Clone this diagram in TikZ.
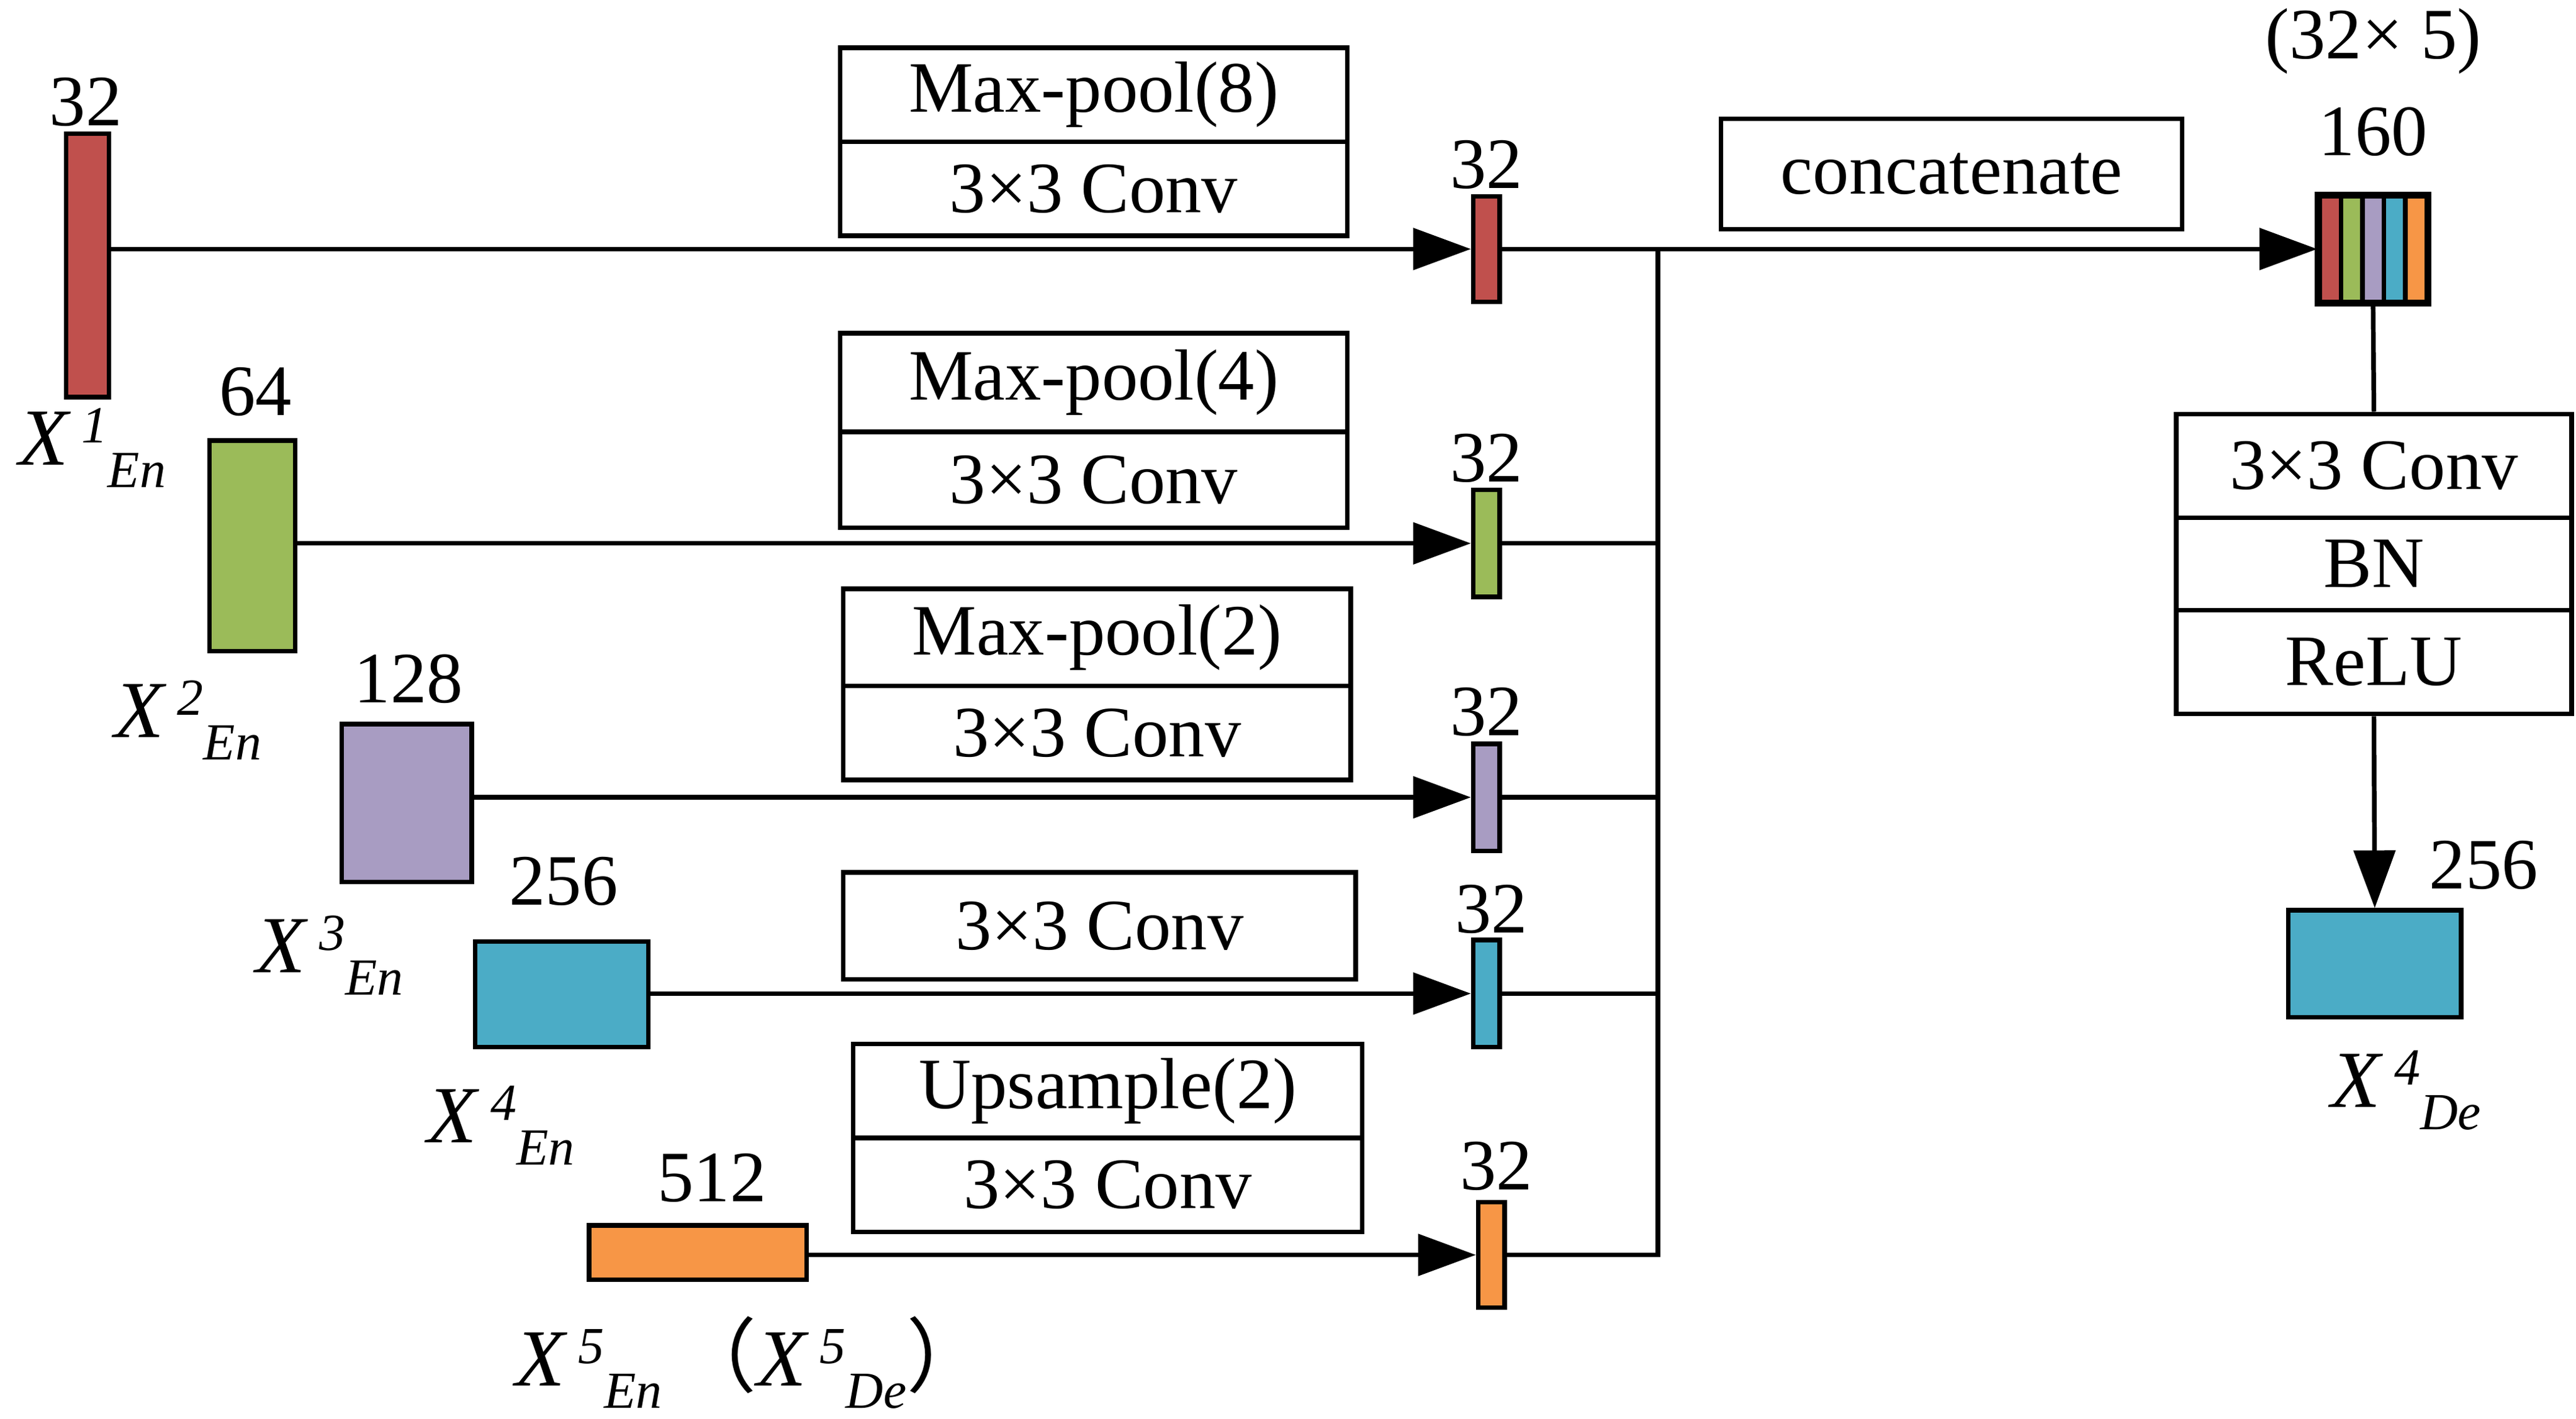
\documentclass[tikz,border=0pt]{standalone}
\usepackage{fontspec}
\setmainfont{Liberation Serif}
\newfontfamily\cjk{Noto Sans CJK SC}
\usetikzlibrary{arrows.meta}
\definecolor{cred}{HTML}{C0504D}
\definecolor{cgreen}{HTML}{9BBB59}
\definecolor{cpurple}{HTML}{A89CC2}
\definecolor{cteal}{HTML}{4BACC6}
\definecolor{corange}{HTML}{F79646}
\newcommand{\xlab}[2]{\textit{X\,\raisebox{0.6ex}{\small #1}\raisebox{-0.6ex}{\small #2}}}
\tikzset{
  fm/.style={draw=black,line width=0.8pt,inner sep=0pt,fill=#1},
  op/.style={draw=black,line width=0.8pt,inner sep=0pt,font=\fontsize{12.5}{12.5}\selectfont},
  num/.style={inner sep=0pt,font=\fontsize{12.5}{12.5}\selectfont},
  xl/.style={inner sep=0pt,font=\fontsize{14}{14}\selectfont},
  ln/.style={line width=0.8pt},
  ar/.style={line width=0.8pt,-{Triangle[length=0.35cm,width=0.25cm]}}
}
% box from pixel corners (x1,y1) (x2,y2), 1px = 0.01cm, y downward
\newcommand{\pbox}[6]{\node[#2,minimum width={(#5-#3)*0.01cm},minimum height={(#6-#4)*0.01cm}] (#1) at ({(#3+#5)*0.005},{-(#4+#6)*0.005}) {};}
\newcommand{\tbox}[7]{\node[#2,minimum width={(#5-#3)*0.01cm},minimum height={(#6-#4)*0.01cm}] (#1) at ({(#3+#5)*0.005},{-(#4+#6)*0.005}) {#7};}
\begin{document}
\begin{tikzpicture}
\useasboundingbox (0,0) rectangle (15.63,-8.613);
% encoder feature maps
\pbox{x1}{fm=cred}{40}{81}{66}{241}
\pbox{x2}{fm=cgreen}{127}{267}{179}{395}
\pbox{x3}{fm=cpurple}{207}{439}{286}{535}
\pbox{x4}{fm=cteal}{288}{571}{393}{635}
\pbox{x5}{fm=corange}{357}{743}{489}{776}
\node[num] (n1) at (0.52,-0.62) {32};
\node[num] (n2) at (1.55,-2.38) {64};
\node[num] (n3) at (2.48,-4.12) {128};
\node[num] (n4) at (3.42,-5.35) {256};
\node[num] (n5) at (4.32,-7.15) {512};
\node[xl] (l1) at (0.56,-2.72) {\xlab{1}{En}};
\node[xl] (l2) at (1.14,-4.37) {\xlab{2}{En}};
\node[xl] (l3) at (2.00,-5.80) {\xlab{3}{En}};
\node[xl] (l4) at (3.04,-6.83) {\xlab{4}{En}};
\node[xl] (l5) at (4.56,-8.27) {\xlab{5}{En}\,{\cjk（}\xlab{5}{De}{\cjk）}};
% 32-channel maps
\pbox{s1}{fm=cred}{893}{119}{909}{183}
\pbox{s2}{fm=cgreen}{893}{297}{909}{362}
\pbox{s3}{fm=cpurple}{893}{451}{909}{516}
\pbox{s4}{fm=cteal}{893}{570}{909}{635}
\pbox{s5}{fm=corange}{896}{729}{912}{793}
\node[num] (m1) at (9.02,-1.00) {32};
\node[num] (m2) at (9.02,-2.78) {32};
\node[num] (m3) at (9.02,-4.32) {32};
\node[num] (m4) at (9.05,-5.52) {32};
\node[num] (m5) at (9.08,-7.08) {32};
% operation boxes
\tbox{o1a}{op}{509}{29}{817}{86}{Max-pool(8)}
\tbox{o1b}{op}{509}{86}{817}{143}{3×3 Conv}
\tbox{o2a}{op}{509}{202}{817}{262}{Max-pool(4)}
\tbox{o2b}{op}{509}{262}{817}{320}{3×3 Conv}
\tbox{o3a}{op}{511}{357}{819}{416}{Max-pool(2)}
\tbox{o3b}{op}{511}{416}{819}{473}{3×3 Conv}
\tbox{o4}{op}{511}{529}{822}{594}{3×3 Conv}
\tbox{o5a}{op}{517}{633}{826}{690}{Upsample(2)}
\tbox{o5b}{op}{517}{690}{826}{747}{3×3 Conv}
\tbox{cat}{op}{1043}{72}{1323}{139}{concatenate}
% arrows into 32-channel maps
\draw[ar] (x1.east |- s1.west) -- (s1.west);
\draw[ar] (x2.east |- s2.west) -- (s2.west);
\draw[ar] (x3.east |- s3.west) -- (s3.west);
\draw[ar] (x4.east |- s4.west) -- (s4.west);
\draw[ar] (x5.east |- s5.west) -- (s5.west);
% merge
\coordinate (j1) at (10.06,-1.52);
\coordinate (j5) at (10.06,-7.60);
\draw[ln] (s2.east) -- (s2.east -| j1);
\draw[ln] (s3.east) -- (s3.east -| j1);
\draw[ln] (s4.east) -- (s4.east -| j1);
\draw[ln] (s5.east) -- (s5.east -| j5) -- (j5 |- s1.east);
% concatenated map
\foreach \i/\c in {0/cred,1/cgreen,2/cpurple,3/cteal,4/corange}{
  \pgfmathsetmacro{\xa}{1406+13*\i}
  \pgfmathsetmacro{\xb}{1419+13*\i}
  \pbox{c\i}{fm=\c}{\xa}{119}{\xb}{183}
}
\draw[line width=0.8pt] (c0.north west) rectangle (c4.south east);
\node[num] (cn) at (14.40,-0.80) {160};
\node[num] (cm) at (14.40,-0.25) {(32× 5)};
\draw[ar] (s1.east) -- (c0.west);
% conv block
\tbox{b1}{op}{1319}{251}{1559}{314}{3×3 Conv}
\tbox{b2}{op}{1319}{314}{1559}{370}{BN}
\tbox{b3}{op}{1319}{370}{1559}{433}{ReLU}
\draw[ln] (c2.south) -- (b1.north);
\pbox{d4}{fm=cteal}{1387}{552}{1492}{617}
\draw[ar] (b3.south) -- (d4.north);
\node[num] (dn) at (15.07,-5.25) {256};
\node[xl] (dl) at (14.60,-6.62) {\xlab{4}{De}};
\end{tikzpicture}
\end{document}
